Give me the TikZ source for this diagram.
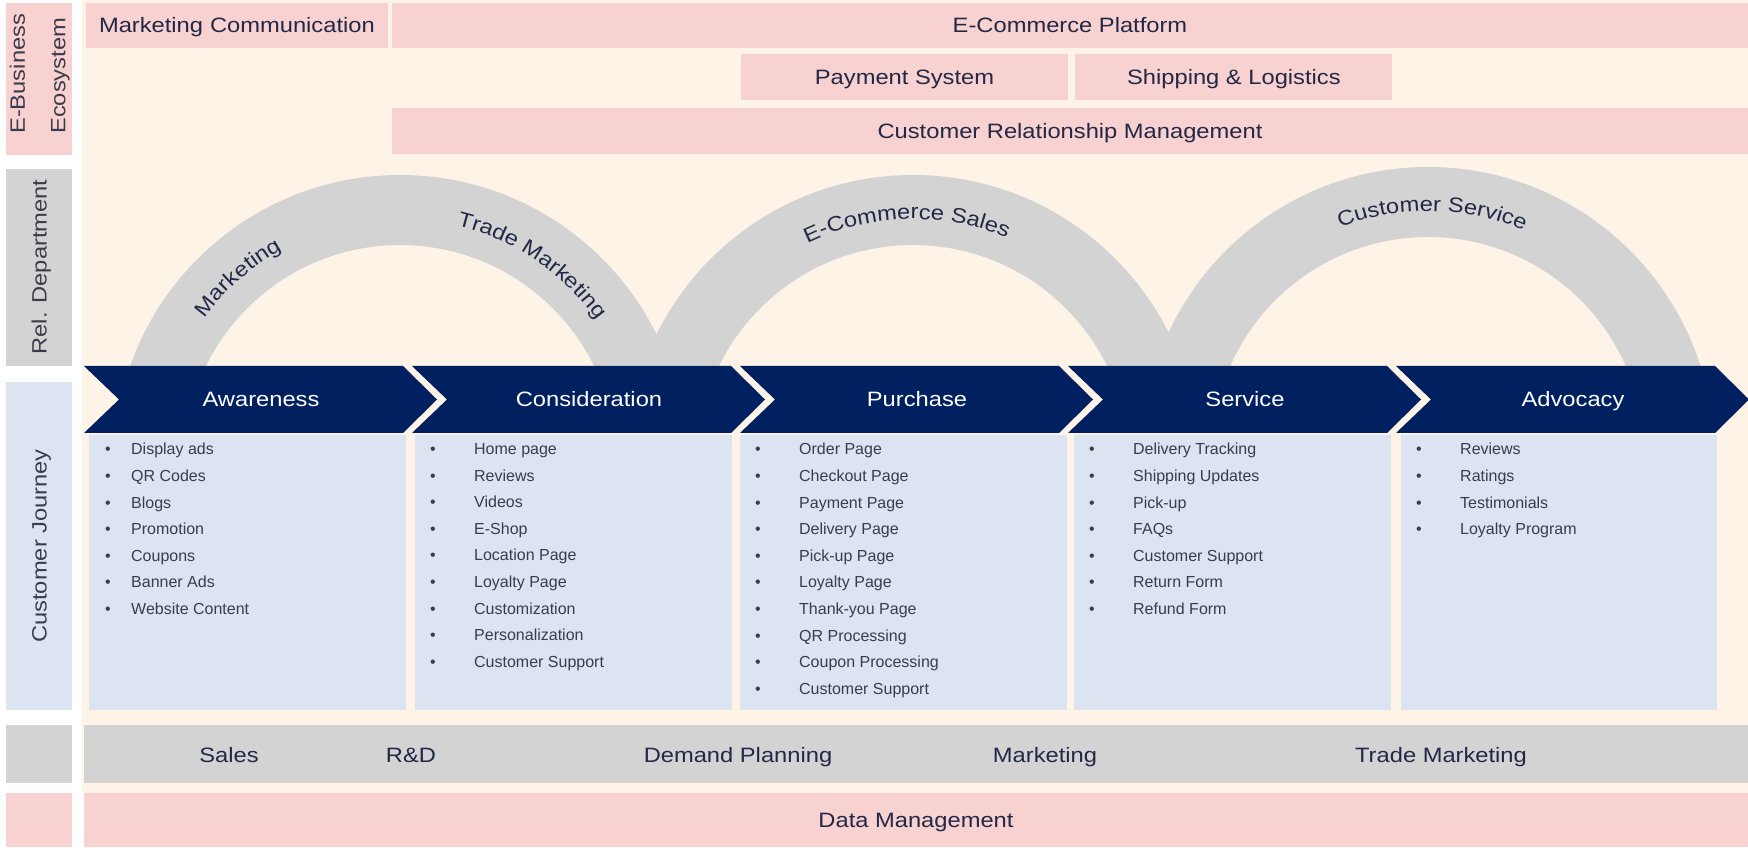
\documentclass[tikz,border=0pt]{standalone}
\usepackage{fontspec}
\setmainfont{Liberation Sans}
\newfontfamily\headfont[FakeStretch=1.14]{Liberation Sans}
\usepackage{tikz}
\usetikzlibrary{positioning,decorations.text}
\definecolor{cream}{HTML}{FDF3E7}
\definecolor{pinkband}{HTML}{F8D1D1}
\definecolor{archgray}{HTML}{D3D3D3}
\definecolor{navy}{HTML}{002060}
\definecolor{paleblue}{HTML}{DDE4F1}
\definecolor{textnavy}{HTML}{222846}
\definecolor{listgray}{HTML}{3A3C4C}
\newcommand{\hfont}{\headfont\fontsize{20.8}{25}\selectfont}
\newcommand{\tp}[2][44pt]{\makebox[#1][l]{\textbullet}#2}
\newcommand{\stagearrow}[1]{\fill[navy] (#1,481) -- ++(319,0) -- ++(34,-33.5) -- ++(-34,-33.5) -- ++(-319,0) -- ++(35,33.5) -- cycle;}
\tikzstyle{pinkbox}=[fill=pinkband,inner sep=0pt,text height=15pt,text depth=0pt,font=\hfont,text=textnavy]
\tikzstyle{stage}=[inner sep=0pt,text height=15pt,text depth=0pt,font=\hfont,text=white]
\tikzstyle{dept}=[inner sep=0pt,text height=15pt,text depth=0pt,font=\hfont,text=textnavy]
\tikzstyle{side}=[rotate=90,inner sep=0pt,text height=15pt,text depth=0pt,font=\hfont,text=listgray]
\tikzstyle{touch}=[anchor=north west,align=left,inner sep=0pt,font=\fontsize{16}{26.6}\selectfont,text=listgray]
\tikzstyle{archtext}=[decorate,decoration={text along path,text align=center,text color=textnavy}]

\begin{document}
\begin{tikzpicture}[x=1pt,y=1pt]
\useasboundingbox (0,0) rectangle (1748,847);
\fill[white] (0,0) rectangle (1748,847);
\fill[cream] (82,54) rectangle (1748,847);

\fill[pinkband] (6,692) rectangle (72,844);
\fill[archgray] (6,481) rectangle (72,678);
\fill[paleblue] (6,137) rectangle (72,465);
\fill[archgray] (6,64) rectangle (72,122);
\fill[pinkband] (6,0) rectangle (72,54);
\node[rotate=90,anchor=north west,align=left,inner sep=0pt,text=listgray,font=\headfont\fontsize{20.8}{40.5}\selectfont] (ebiz) at (9.6,713) {E-Business\\Ecosystem};
\node[side] (rel) at (39,580) {Rel. Department};
\node[side] (cj) at (39,301) {Customer Journey};

\node[pinkbox,minimum width=302,minimum height=45,text width=276,align=left,inner xsep=13] (mc) at (237,821.5) {Marketing Communication};
\node[pinkbox,minimum width=1356,minimum height=45] (ecp) at (1070,821.5) {E-Commerce Platform};
\node[pinkbox,minimum width=327,minimum height=46] (pay) at (904.5,770) {Payment System};
\node[pinkbox,minimum width=317,minimum height=46,right=7pt of pay] (ship) {Shipping \& Logistics};
\node[pinkbox,minimum width=1356,minimum height=46] (crm) at (1070,716) {Customer Relationship Management};

\begin{scope}
\clip (82,481) rectangle (1748,690);
\fill[archgray,even odd rule] (400,386) circle (286) (400,386) circle (216);
\fill[archgray,even odd rule] (913,386) circle (286) (913,386) circle (216);
\fill[archgray,even odd rule] (1428,394) circle (286) (1428,394) circle (216);
\end{scope}
\path[archtext,decoration={text={|\hfont|Marketing}}] ([shift={(400,386)}]166.5:242) arc[start angle=166.5,end angle=96.5,radius=242];
\path[archtext,decoration={text={|\hfont|Trade Marketing}}] ([shift={(400,386)}]96:242) arc[start angle=96,end angle=16,radius=242];
\path[archtext,decoration={text={|\hfont|E-Commerce Sales}}] ([shift={(913,386)}]131.5:242) arc[start angle=131.5,end angle=51.5,radius=242];
\path[archtext,decoration={text={|\hfont|Customer Service}}] ([shift={(1428,394)}]129:242) arc[start angle=129,end angle=49,radius=242];

\stagearrow{84}
\stagearrow{412}
\stagearrow{740}
\stagearrow{1068}
\stagearrow{1396}
\node[stage] (aw) at (261,447.5) {Awareness};
\node[stage] (co) at (589,447.5) {Consideration};
\node[stage] (pu) at (917,447.5) {Purchase};
\node[stage] (se) at (1245,447.5) {Service};
\node[stage] (ad) at (1573,447.5) {Advocacy};

\fill[paleblue] (89,137) rectangle (406,412);
\fill[paleblue] (415,137) rectangle (732,412);
\fill[paleblue] (740,137) rectangle (1067,412);
\fill[paleblue] (1074,137) rectangle (1391,412);
\fill[paleblue] (1401,137) rectangle (1717,412);
\node[touch] (awlist) at (105,403.8) {\tp[26pt]{Display ads}\\\tp[26pt]{QR Codes}\\\tp[26pt]{Blogs}\\\tp[26pt]{Promotion}\\\tp[26pt]{Coupons}\\\tp[26pt]{Banner Ads}\\\tp[26pt]{Website Content}};
\node[touch] (colist) at (430,403.8) {\tp{Home page}\\\tp{Reviews}\\\tp{Videos}\\\tp{E-Shop}\\\tp{Location Page}\\\tp{Loyalty Page}\\\tp{Customization}\\\tp{Personalization}\\\tp{Customer Support}};
\node[touch] (pulist) at (755,403.8) {\tp{Order Page}\\\tp{Checkout Page}\\\tp{Payment Page}\\\tp{Delivery Page}\\\tp{Pick-up Page}\\\tp{Loyalty Page}\\\tp{Thank-you Page}\\\tp{QR Processing}\\\tp{Coupon Processing}\\\tp{Customer Support}};
\node[touch] (selist) at (1089,403.8) {\tp{Delivery Tracking}\\\tp{Shipping Updates}\\\tp{Pick-up}\\\tp{FAQs}\\\tp{Customer Support}\\\tp{Return Form}\\\tp{Refund Form}};
\node[touch] (adlist) at (1416,403.8) {\tp{Reviews}\\\tp{Ratings}\\\tp{Testimonials}\\\tp{Loyalty Program}};

\fill[archgray] (84,64) rectangle (1748,122);
\node[dept] (sales) at (229,92) {Sales};
\node[dept] (rd) at (411,92) {R\&D};
\node[dept] (dp) at (738,92) {Demand Planning};
\node[dept] (mk) at (1045,92) {Marketing};
\node[dept] (tm) at (1441,92) {Trade Marketing};
\node[pinkbox,minimum width=1664,minimum height=54] (dm) at (916,27) {Data Management};
\end{tikzpicture}
\end{document}
